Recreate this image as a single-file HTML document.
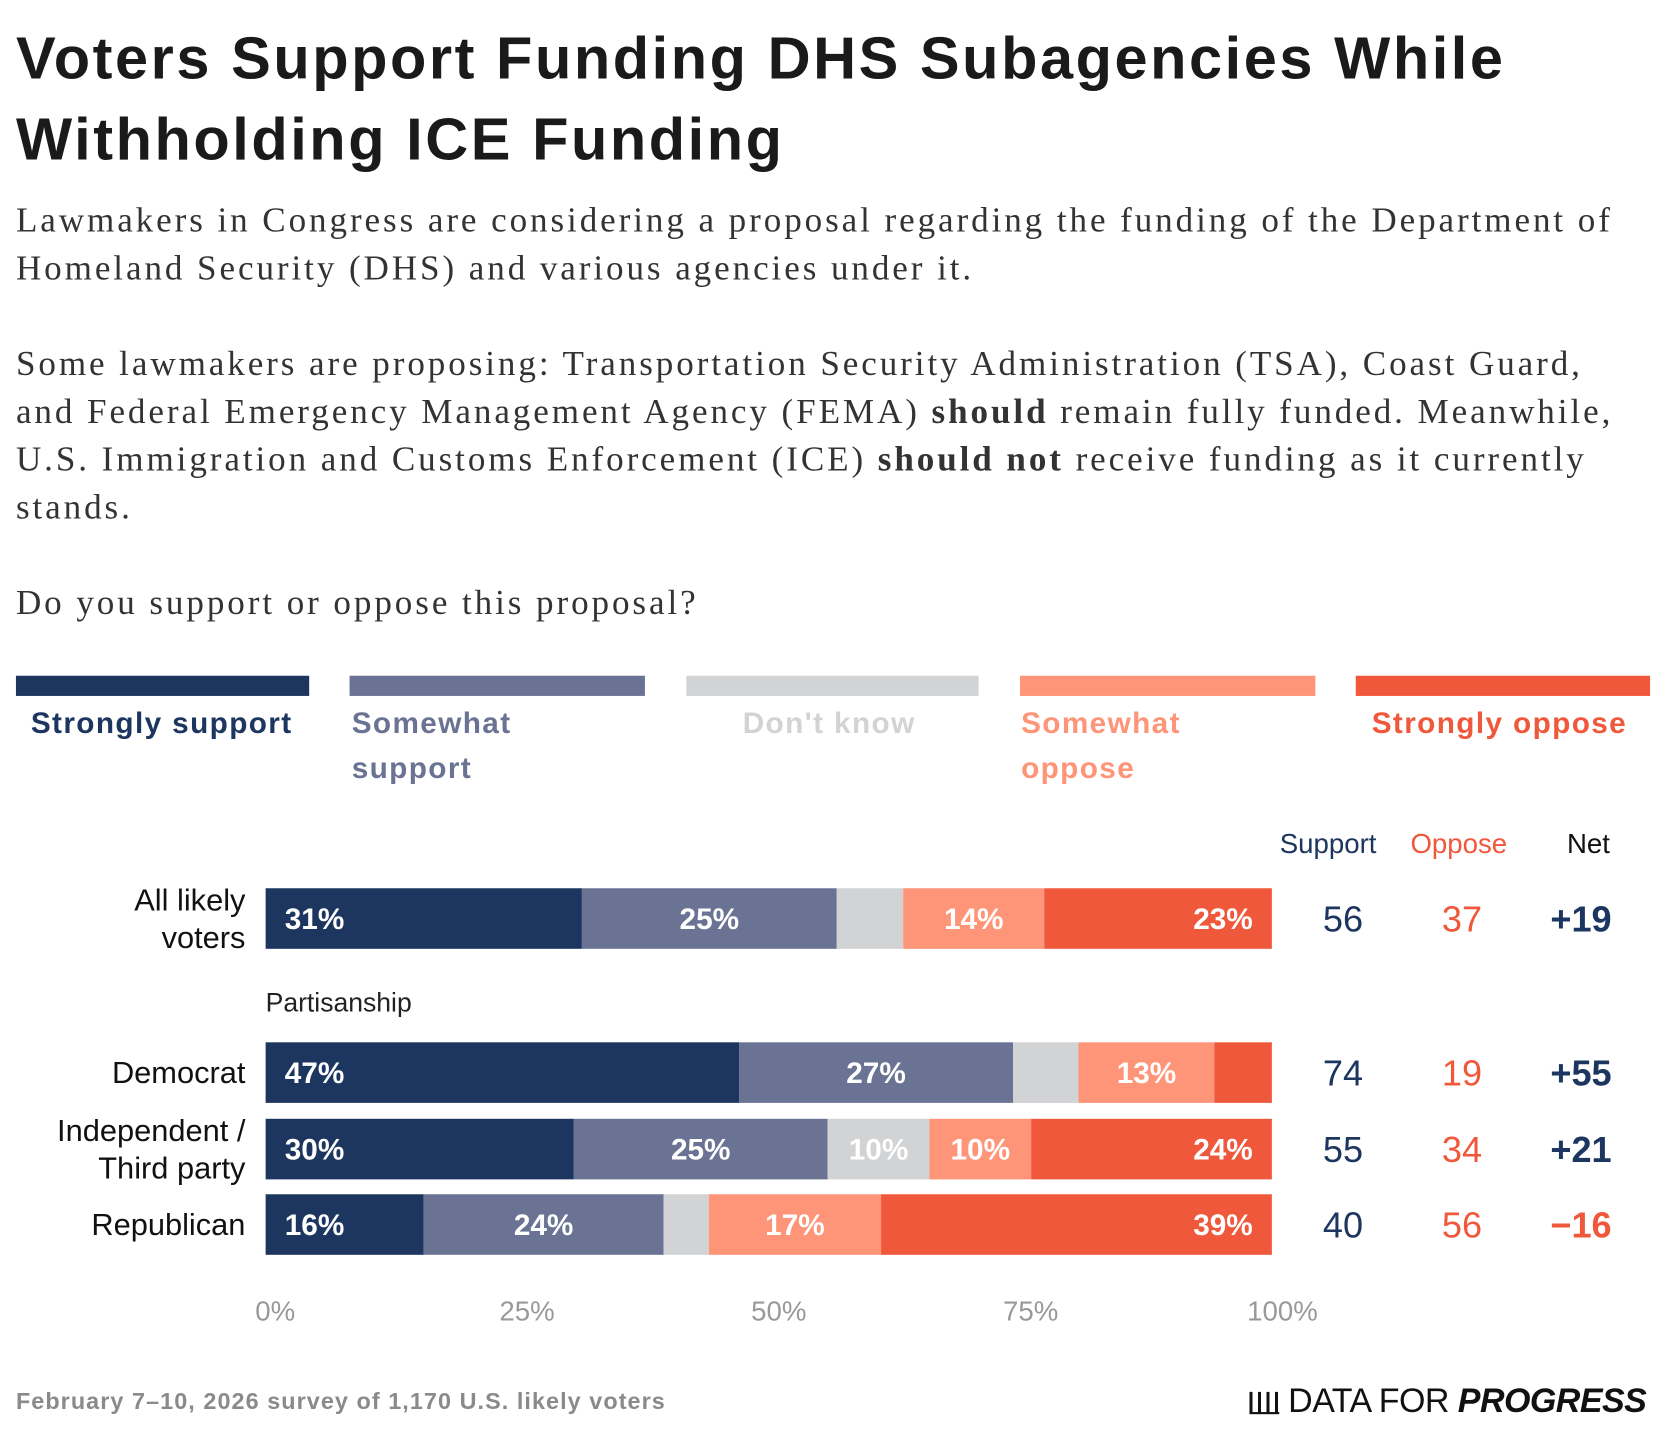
<!DOCTYPE html>
<html><head><meta charset="utf-8"><style>
html,body{margin:0;padding:0;background:#fff;width:1666px;height:1434px;overflow:hidden}
#wrap{position:absolute;left:0;top:0;width:1568px;height:1350px;transform:scale(1.0625);transform-origin:0 0;font-family:"Liberation Sans",sans-serif}
.abs{position:absolute}
h1{position:absolute;left:15px;top:17px;margin:0;font-size:56px;line-height:76px;font-weight:bold;color:#1a1a1a;letter-spacing:2.4px;width:1550px}
.ser{font-family:"Liberation Serif",serif;font-size:33px;line-height:45px;color:#333;left:15px;width:1560px;margin:0;letter-spacing:2.75px;white-space:nowrap}
.leg{height:19px;top:636px}
.lt{top:660px;font-size:28px;line-height:42px;font-weight:bold;letter-spacing:1.3px}
</style></head><body>
<div id="wrap">
<h1>Voters Support Funding DHS Subagencies While<br>Withholding ICE Funding</h1>
<p class="abs ser" style="top:186px">Lawmakers in Congress are considering a proposal regarding the funding of the Department of<br>Homeland Security (DHS) and various agencies under it.</p>
<p class="abs ser" style="top:321px">Some lawmakers are proposing: Transportation Security Administration (TSA), Coast Guard,<br>and Federal Emergency Management Agency (FEMA) <b>should</b> remain fully funded. Meanwhile,<br>U.S. Immigration and Customs Enforcement (ICE) <b>should not</b> receive funding as it currently<br>stands.</p>
<p class="abs ser" style="top:546px">Do you support or oppose this proposal?</p>

<div class="abs leg" style="left:15px;width:276px;background:#1c3660"></div>
<div class="abs leg" style="left:329px;width:278px;background:#6a7394"></div>
<div class="abs leg" style="left:646px;width:275px;background:#d2d3d5"></div>
<div class="abs leg" style="left:960px;width:278px;background:#fe9478"></div>
<div class="abs leg" style="left:1276px;width:277px;background:#f0583c"></div>
<div class="abs lt" style="left:29px;color:#1c3660">Strongly support</div>
<div class="abs lt" style="left:331px;color:#6a7394">Somewhat<br>support</div>
<div class="abs lt" style="left:699px;color:#d2d3d5">Don't know</div>
<div class="abs lt" style="left:961px;color:#fe9478">Somewhat<br>oppose</div>
<div class="abs lt" style="left:1291px;color:#f0583c">Strongly oppose</div>

<svg id="chart" class="abs" style="left:0;top:0" width="1568" height="1350"></svg>

<div class="abs" style="left:15px;top:1306px;font-size:22px;font-weight:bold;color:#8a8a8a;letter-spacing:1px">February 7–10, 2026 survey of 1,170 U.S. likely voters</div>
<div class="abs" style="left:1176px;top:1300px;font-size:32px;color:#111;letter-spacing:-0.5px;white-space:nowrap"><span style="display:inline-block;width:28px;height:26px;border-bottom:2px solid #111;vertical-align:-2px;background:linear-gradient(90deg,#111 3px,transparent 3px,transparent 8px,#111 8px,#111 11px,transparent 11px,transparent 16px,#111 16px,#111 19px,transparent 19px,transparent 24px,#111 24px,#111 27px,transparent 27px) bottom/100% 75% no-repeat"></span> DATA FOR <b><i>PROGRESS</i></b></div>
</div>
<script>
const groups=["All likely voters","Democrat","Independent / Third party","Republican"];
const strongSupport=[31.4,47.0,30.6,15.7];
const someSupport=[25.3,27.2,25.2,23.8];
const dontKnow=[6.6,6.5,10.1,4.5];
const someOppose=[14.0,13.5,10.1,17.1];
const strongOppose=[22.6,5.7,23.9,38.8];
const segLabels=[["31%","25%","","14%","23%"],["47%","27%","","13%",""],["30%","25%","10%","10%","24%"],["16%","24%","","17%","39%"]];
const supportTot=[56,74,55,40];
const opposeTot=[37,19,34,56];
const netVals=["+19","+55","+21","\u221216"];
const ticks=[0,25,50,75,100];
const tickLabels=["0%","25%","50%","75%","100%"];

const NS="http://www.w3.org/2000/svg";
const svg=document.getElementById('chart');
const x0=250,x1=1198;
const xs=v=>x0+(x1-x0)*v/100;
const rowTop=[836,981,1053,1124];
const barH=57;
const colors=["#1c3660","#6a7394","#d2d3d5","#fe9478","#f0583c"];
const series=[strongSupport,someSupport,dontKnow,someOppose,strongOppose];
const segNames=["strongly-support","somewhat-support","dont-know","somewhat-oppose","strongly-oppose"];
function t(x,y,s,attrs){const e=document.createElementNS(NS,'text');e.setAttribute('x',x);e.setAttribute('y',y);for(const k in attrs)e.setAttribute(k,attrs[k]);e.textContent=s;svg.appendChild(e);return e;}
let h;
h=t(1250,803,"Support",{'text-anchor':'middle','font-size':26,fill:'#1c3660'});


h=t(1373,803,"Oppose",{'text-anchor':'middle','font-size':26,fill:'#f0583c'});


h=t(1495,803,"Net",{'text-anchor':'middle','font-size':26,fill:'#111'});


h=t(250,952,"Partisanship",{'font-size':25,fill:'#222'});


groups.forEach((g,i)=>{
  const y=rowTop[i],cy=y+barH/2;
  let cum=0;
  series.forEach((s,j)=>{
    const v=s[i];const r=document.createElementNS(NS,'rect');
    r.setAttribute('x',xs(cum));r.setAttribute('y',y);r.setAttribute('width',xs(cum+v)-xs(cum));r.setAttribute('height',barH);r.setAttribute('fill',colors[j]);
    
    
    svg.appendChild(r);
    const lab=segLabels[i][j];
    if(lab){let lx,anc;
      if(j===0){lx=xs(cum)+18;anc='start';}else if(j===4){lx=xs(cum+v)-18;anc='end';}else{lx=(xs(cum)+xs(cum+v))/2;anc='middle';}
      const e=t(lx,cy+10,lab,{'text-anchor':anc,'font-size':28,'font-weight':'bold',fill:'#fff'});
      
      }
    cum+=v;});
  const words=g==="All likely voters"?["All likely","voters"]:g.startsWith("Independent")?["Independent /","Third party"]:[g];
  words.forEach((w,k)=>{const e=t(231,cy+10+(k-(words.length-1)/2)*35,w,{'text-anchor':'end','font-size':29,fill:'#111'});
    
    });
  let e=t(1264,cy+12,supportTot[i],{'text-anchor':'middle','font-size':34,fill:'#1c3660'});
  
  
  e=t(1376,cy+12,opposeTot[i],{'text-anchor':'middle','font-size':34,fill:'#f0583c'});
  
  
  e=t(1488,cy+12,netVals[i],{'text-anchor':'middle','font-size':34,'font-weight':'bold',fill:netVals[i].startsWith('+')?'#1c3660':'#f0583c'});
  
  
});
ticks.forEach((v,k)=>{const e=t(xs(v)+9,1243,tickLabels[k],{'text-anchor':'middle','font-size':26,fill:'#999'});
  
  });
</script>
</body></html>
